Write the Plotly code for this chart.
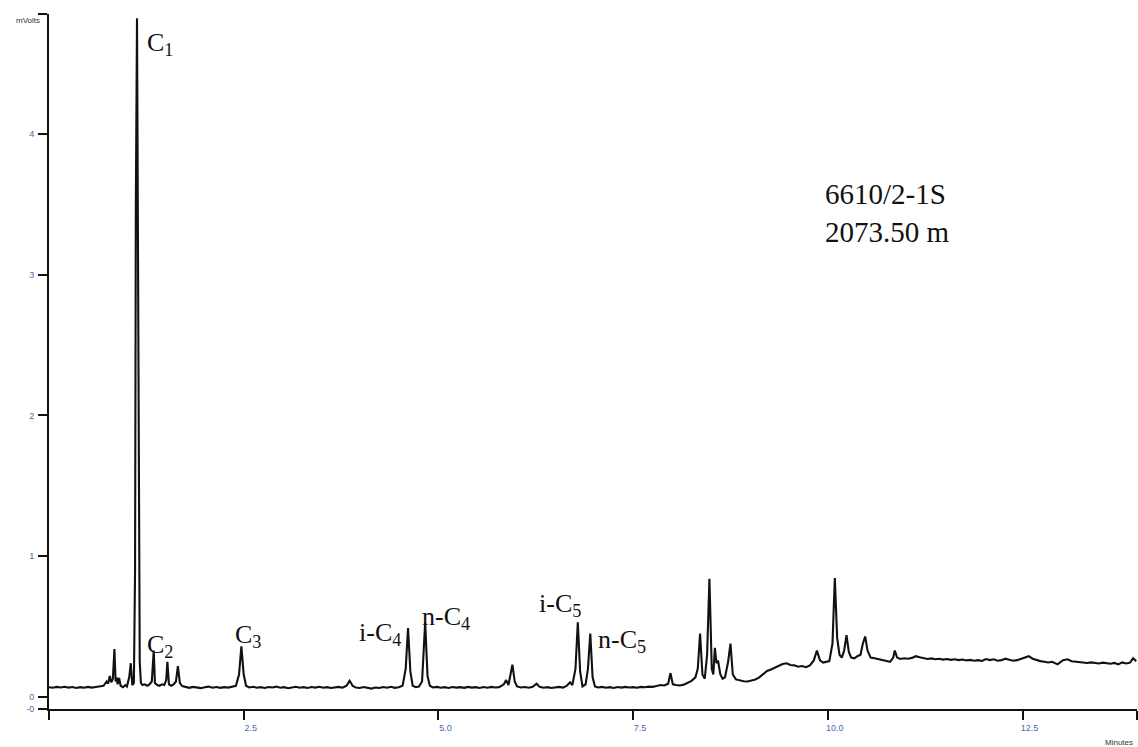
import plotly.graph_objects as go

# Retention time (minutes) and detector signal (mV)
time_min = [
    0.00, 0.05, 0.10, 0.15, 0.20, 0.25, 0.30, 0.35, 0.40, 0.45, 0.50, 0.55, 0.60, 0.65, 0.70,
    0.74, 0.76, 0.78, 0.80, 0.82, 0.84, 0.855, 0.87, 0.88, 0.90, 0.92, 0.95, 0.98, 1.00, 1.03,
    1.05, 1.07, 1.09, 1.105, 1.115, 1.13, 1.14, 1.15, 1.165, 1.18, 1.20, 1.23, 1.26, 1.29, 1.32,
    1.345, 1.36, 1.39, 1.42, 1.45, 1.48, 1.505, 1.52, 1.54, 1.57, 1.60, 1.63, 1.655, 1.68, 1.71,
    1.75, 1.80, 1.85, 1.90, 1.95, 2.00, 2.05, 2.10, 2.15, 2.20, 2.25, 2.30, 2.35, 2.40, 2.44,
    2.47, 2.50, 2.53, 2.57, 2.62, 2.67, 2.72, 2.77, 2.82, 2.87, 2.92, 2.97, 3.02, 3.07, 3.12,
    3.17, 3.22, 3.27, 3.32, 3.37, 3.42, 3.47, 3.52, 3.57, 3.62, 3.67, 3.72, 3.77, 3.82, 3.86,
    3.90, 3.94, 3.99, 4.04, 4.09, 4.14, 4.19, 4.24, 4.29, 4.34, 4.39, 4.44, 4.49, 4.54, 4.58,
    4.61, 4.64, 4.67, 4.71, 4.75, 4.79, 4.83, 4.86, 4.89, 4.93, 4.98, 5.03, 5.08, 5.13, 5.18,
    5.23, 5.28, 5.33, 5.38, 5.43, 5.48, 5.53, 5.58, 5.63, 5.68, 5.73, 5.78, 5.84, 5.87, 5.90,
    5.95, 5.98, 6.01, 6.06, 6.11, 6.16, 6.21, 6.26, 6.30, 6.35, 6.40, 6.45, 6.50, 6.55, 6.60,
    6.65, 6.69, 6.72, 6.76, 6.79, 6.82, 6.85, 6.89, 6.92, 6.95, 6.98, 7.01, 7.05, 7.10, 7.15,
    7.20, 7.25, 7.30, 7.35, 7.40, 7.45, 7.50, 7.55, 7.60, 7.65, 7.70, 7.75, 7.80, 7.85, 7.90,
    7.95, 7.98, 8.01, 8.05, 8.10, 8.15, 8.20, 8.25, 8.30, 8.33, 8.36, 8.39, 8.42, 8.45, 8.48,
    8.51, 8.53, 8.55, 8.57, 8.59, 8.62, 8.65, 8.68, 8.72, 8.75, 8.78, 8.82, 8.87, 8.92, 8.97,
    9.02, 9.07, 9.12, 9.17, 9.22, 9.27, 9.32, 9.37, 9.42, 9.47, 9.52, 9.57, 9.62, 9.67, 9.72,
    9.77, 9.82, 9.86, 9.90, 9.94, 9.98, 10.02, 10.06, 10.09, 10.12, 10.15, 10.18, 10.21, 10.24, 10.27,
    10.30, 10.34, 10.38, 10.42, 10.45, 10.48, 10.51, 10.55, 10.60, 10.65, 10.70, 10.75, 10.80, 10.84, 10.86,
    10.89, 10.93, 10.98, 11.03, 11.08, 11.13, 11.18, 11.23, 11.28, 11.33, 11.38, 11.43, 11.48, 11.53, 11.58,
    11.63, 11.68, 11.73, 11.78, 11.83, 11.88, 11.93, 11.98, 12.03, 12.08, 12.13, 12.18, 12.23, 12.28, 12.33,
    12.38, 12.43, 12.48, 12.53, 12.58, 12.63, 12.68, 12.73, 12.78, 12.83, 12.88, 12.95, 13.02, 13.08, 13.13,
    13.18, 13.23, 13.28, 13.33, 13.38, 13.43, 13.48, 13.53, 13.58, 13.63, 13.68, 13.73, 13.78, 13.83, 13.88,
    13.92, 13.96,
]
signal_mv = [
    .070, .066, .072, .068, .073, .067, .071, .064, .070, .066, .072, .067, .071, .074, .080,
    .110, .095, .150, .105, .130, .340, .110, .140, .090, .135, .080, .070, .085, .075, .140,
    .240, .085, .100, .900, 3.50, 4.82, 3.55, 1.20, .250, .100, .085, .090, .080, .090, .110,
    .330, .100, .085, .080, .090, .085, .120, .250, .090, .080, .090, .110, .220, .100, .078,
    .072, .065, .072, .068, .063, .070, .074, .066, .071, .065, .070, .067, .072, .080, .160,
    .360, .160, .080, .068, .073, .066, .070, .064, .071, .068, .074, .066, .070, .063, .069,
    .073, .066, .070, .064, .071, .067, .073, .066, .070, .064, .069, .072, .066, .080, .115,
    .078, .068, .064, .071, .066, .060, .068, .064, .071, .066, .073, .065, .070, .080, .200,
    .490, .180, .080, .070, .075, .110, .530, .150, .080, .068, .072, .066, .070, .064, .071,
    .067, .070, .065, .072, .067, .070, .064, .071, .066, .072, .068, .070, .090, .120, .085,
    .230, .110, .075, .068, .071, .066, .072, .095, .072, .066, .070, .064, .069, .072, .067,
    .080, .105, .085, .200, .530, .180, .075, .090, .200, .450, .140, .075, .068, .072, .066,
    .070, .064, .071, .067, .072, .068, .070, .066, .072, .069, .074, .072, .078, .085, .082,
    .095, .170, .090, .085, .082, .088, .100, .115, .140, .200, .450, .160, .130, .300, .840,
    .200, .160, .350, .240, .260, .160, .130, .140, .250, .380, .160, .125, .118, .112, .110,
    .118, .125, .140, .160, .185, .195, .210, .220, .235, .240, .228, .225, .215, .220, .212,
    .225, .260, .330, .260, .245, .250, .255, .380, .845, .420, .300, .280, .330, .440, .320,
    .280, .275, .290, .300, .380, .430, .330, .280, .275, .270, .262, .255, .250, .280, .330,
    .280, .270, .275, .272, .278, .290, .282, .276, .270, .274, .268, .272, .266, .270, .264,
    .268, .262, .266, .260, .264, .258, .262, .256, .270, .262, .268, .258, .262, .272, .264,
    .258, .262, .270, .282, .290, .272, .262, .255, .250, .245, .250, .232, .262, .268, .254,
    .250, .248, .245, .242, .246, .240, .238, .244, .240, .236, .242, .232, .246, .238, .244,
    .275, .255,
]

# Axis ticks
x_tick_vals = [0, 2.5, 5.0, 7.5, 10.0, 12.5, 13.97]
x_tick_text = ["", "2.5", "5.0", "7.5", "10.0", "12.5", ""]
y_tick_vals = [-0.085, 0, 1, 2, 3, 4, 4.85]
y_tick_text = ["-0", "0", "1", "2", "3", "4", ""]

# Peak labels: (text, x in minutes, y in mV)
peak_labels = ["C<sub>1</sub>", "C<sub>2</sub>", "C<sub>3</sub>", "i-C<sub>4</sub>",
               "n-C<sub>4</sub>", "i-C<sub>5</sub>", "n-C<sub>5</sub>"]
peak_label_x = [1.23, 1.23, 2.36, 3.96, 4.76, 6.26, 7.02]
peak_label_y = [4.64, 0.36, 0.43, 0.45, 0.56, 0.65, 0.40]

sample_text = "6610/2-1S<br>2073.50 m"

fig = go.Figure()
fig.add_trace(go.Scatter(
    x=time_min, y=signal_mv, mode="lines",
    line=dict(color="#111111", width=2.1),
    hoverinfo="skip", showlegend=False,
))

serif = "Liberation Serif, Times New Roman, serif"
for txt, lx, ly in zip(peak_labels, peak_label_x, peak_label_y):
    fig.add_annotation(x=lx, y=ly, xref="x", yref="y", text=txt, showarrow=False,
                       xanchor="left", yanchor="middle",
                       font=dict(family=serif, size=26, color="#111111"))

fig.add_annotation(x=9.94, y=3.44, xref="x", yref="y", text=sample_text, showarrow=False,
                   xanchor="left", yanchor="middle", align="left",
                   font=dict(family=serif, size=29, color="#111111"))

fig.add_annotation(x=-0.0195, y=0.99, xref="paper", yref="paper", text="mVolts",
                   showarrow=False, xanchor="center", yanchor="middle",
                   font=dict(family="Liberation Sans, Arial", size=8, color="#333333"))
fig.add_annotation(x=0.983, y=-0.0475, xref="paper", yref="paper", text="Minutes",
                   showarrow=False, xanchor="center", yanchor="middle",
                   font=dict(family="Liberation Sans, Arial", size=8, color="#333333"))

tickfont = dict(family="Liberation Sans, Arial", size=9, color="#4a6aa8")
fig.update_layout(
    width=1138, height=747,
    margin=dict(l=49, r=1, t=14, b=38),
    paper_bgcolor="white", plot_bgcolor="white",
    xaxis=dict(range=[0, 13.97], tickvals=x_tick_vals, ticktext=x_tick_text,
               showgrid=False, zeroline=False, showline=True, linecolor="#111111",
               linewidth=2, ticks="outside", ticklen=9, tickwidth=1.8,
               tickcolor="#111111", tickfont=tickfont, ticklabelshift=7,
               ticklabelstandoff=0),
    yaxis=dict(range=[-0.085, 4.85], tickvals=y_tick_vals, ticktext=y_tick_text,
               showgrid=False, zeroline=False, showline=True, linecolor="#111111",
               linewidth=2, ticks="outside", ticklen=9, tickwidth=1.8,
               tickcolor="#111111", tickfont=tickfont, ticklabelstandoff=2),
)

fig.write_html("out.html")
